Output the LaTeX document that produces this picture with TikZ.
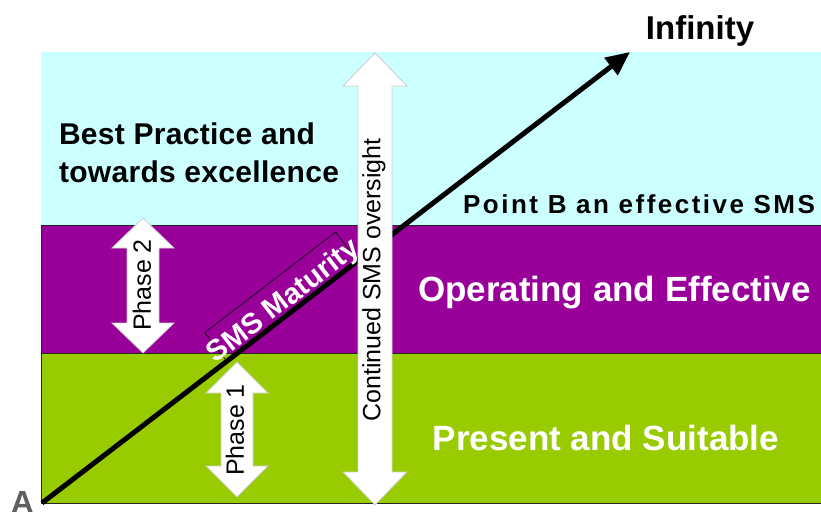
\documentclass[tikz,border=0pt]{standalone}
\usepackage{fontspec}
\setmainfont{Liberation Sans}
\usetikzlibrary{arrows.meta}
\definecolor{skyband}{RGB}{204,255,255}
\definecolor{purpleband}{RGB}{153,0,153}
\definecolor{greenband}{RGB}{153,204,0}
\definecolor{labelgray}{RGB}{95,95,95}
\newcommand\fsz[1]{\fontsize{#1}{#1}\selectfont}
% vertical double block arrow: cx, ytop, ybot, shaft half width, head half width, head length
\newcommand\blockdarrow[6]{%
  \path[whitearrow] (#1,#2) -- (#1+#5,#2+#6) -- (#1+#4,#2+#6) -- (#1+#4,#3-#6) -- (#1+#5,#3-#6)
    -- (#1,#3) -- (#1-#5,#3-#6) -- (#1-#4,#3-#6) -- (#1-#4,#2+#6) -- (#1-#5,#2+#6) -- cycle;}
\begin{document}
\begin{tikzpicture}[x=1pt,y=-1pt,
  whitearrow/.style={fill=white, draw=gray!40, line width=0.8},
  bandline/.style={draw=black!85, line width=1},
  bigwhite/.style={text=white, font=\bfseries\fsz{35}, inner sep=0},
  phasetext/.style={rotate=90, font=\fsz{25}, inner sep=0}]
\useasboundingbox (0,0) rectangle (821,511);
\fill[white] (0,0) rectangle (821,511);
% bands
\fill[skyband] (41,52) rectangle (821,225);
\fill[purpleband] (41,225) rectangle (821,353);
\fill[greenband] (41,353) rectangle (821,503);
\draw[bandline] (821,225) -- (41,225) -- (41,503) -- (821,503);
\draw[bandline] (41,353) -- (821,353);
% main maturity arrow
\coordinate (start) at (42,503);
\coordinate (tip) at (630,52);
\draw[line width=5, -{Triangle[length=24pt,width=21pt]}] (start) -- (tip);
% SMS maturity label
\node[draw=black, line width=0.6, rotate=37.5, minimum width=165, minimum height=36, inner sep=0] (matbox) at (281.2,296.6) {};
\node[rotate=37.5, text=white, font=\bfseries\fsz{29}, inner sep=0] (matlabel) at (284,302) {SMS Maturity};
% phase arrows
\blockdarrow{143}{218}{353}{16}{31}{30}
\node[phasetext] (phase2) at (142,285) {Phase 2};
\blockdarrow{237}{362}{497}{16}{31}{31}
\node[phasetext] (phase1) at (235,430) {Phase 1};
\blockdarrow{375}{53}{505}{17}{32}{33}
\node[phasetext] (oversight) at (374,280) {Continued SMS oversight};
% texts
\node[anchor=base, font=\bfseries\fsz{33}, inner sep=0] (infinity) at (700,40) {Infinity};
\node[align=left, font=\bfseries\fontsize{30}{38}\selectfont\addfontfeature{LetterSpace=1}, inner sep=0] (best) at (199,152.5) {Best Practice and\\towards excellence};
\node[anchor=base west, font=\bfseries\fsz{26}\addfontfeature{LetterSpace=9.5}, inner sep=0] (pointb) at (463,213) {Point B an effective SMS};
\node[bigwhite, anchor=base] (operating) at (614.5,301) {Operating and Effective};
\node[bigwhite, anchor=base] (present) at (606,450) {Present and Suitable};
\node[anchor=base, text=labelgray, font=\bfseries\fsz{32}, inner sep=0] (alabel) at (22.5,513) {A};
\end{tikzpicture}
\end{document}
